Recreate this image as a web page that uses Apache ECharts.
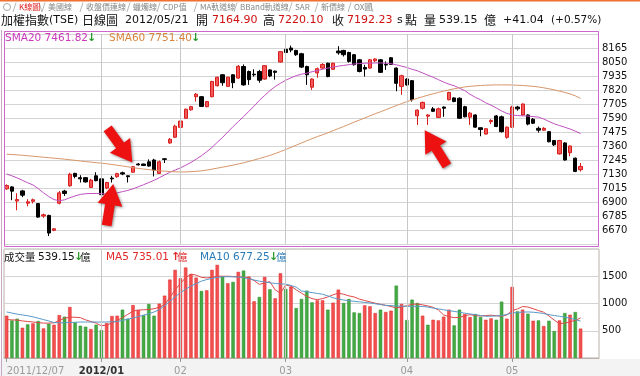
<!DOCTYPE html>
<html>
<head>
<meta charset="utf-8">
<script src="https://cdn.jsdelivr.net/npm/echarts@6/dist/echarts.min.js"></script>
<style>
html, body { margin: 0; padding: 0; background: #fff; }
#chart { width: 640px; height: 376px; }
</style>
</head>
<body>
<div id="chart"></div>
<script>
// 日期 (交易日)
const dates = [
  '2011/12/07','2011/12/08','2011/12/09','2011/12/12','2011/12/13','2011/12/14','2011/12/15','2011/12/16','2011/12/19','2011/12/20',
  '2011/12/21','2011/12/22','2011/12/23','2011/12/26','2011/12/27','2011/12/28','2011/12/29','2011/12/30',
  '2012/01/02','2012/01/03','2012/01/04','2012/01/05','2012/01/06','2012/01/09','2012/01/10','2012/01/11','2012/01/12','2012/01/13',
  '2012/01/16','2012/01/17','2012/01/18','2012/01/30','2012/01/31',
  '2012/02/01','2012/02/02','2012/02/03','2012/02/04','2012/02/06','2012/02/07','2012/02/08','2012/02/09','2012/02/10','2012/02/13',
  '2012/02/14','2012/02/15','2012/02/16','2012/02/17','2012/02/20','2012/02/21','2012/02/22','2012/02/23','2012/02/24','2012/02/29',
  '2012/03/01','2012/03/02','2012/03/03','2012/03/05','2012/03/06','2012/03/07','2012/03/08','2012/03/09','2012/03/12','2012/03/13',
  '2012/03/14','2012/03/15','2012/03/16','2012/03/19','2012/03/20','2012/03/21','2012/03/22','2012/03/23','2012/03/26','2012/03/27',
  '2012/03/28','2012/03/29','2012/03/30',
  '2012/04/02','2012/04/03','2012/04/05','2012/04/06','2012/04/09','2012/04/10','2012/04/11','2012/04/12','2012/04/13','2012/04/16',
  '2012/04/17','2012/04/18','2012/04/19','2012/04/20','2012/04/23','2012/04/24','2012/04/25','2012/04/26','2012/04/27','2012/04/30',
  '2012/05/02','2012/05/03','2012/05/04','2012/05/07','2012/05/08','2012/05/09','2012/05/10','2012/05/11','2012/05/14','2012/05/15',
  '2012/05/16','2012/05/17','2012/05/18','2012/05/21'
];

const opens = [
  7008,7024,6908,6991,6890,6906,6887,6785,6790,6668, 6890,6990,7033,7135,7100,7100,7020,7115,7090,7015,
  7097,7108,7140,7115,7145,7212,7212,7230,7245,7135, 7255,7385,7432,7513,7588,7657,7765,7765,7683,7765,
  7855,7945,7850,7945,7918,8013,7972,7950,7972,7910, 7985,7975,8050,8155,8165,8145,8118,8013,7843,7960,
  8000,8040,7990,8140,8145,8128,8110,8068,8005,8000, 8060,8068,8030,8085,8000,7850,7910,7897,7608,7670,
  7605,7665,7595,7680,7740,7755,7752,7683,7597,7615, 7510,7458,7560,7607,7600,7431,7514,7680,7615,7615,
  7580,7505,7490,7478,7405,7295,7385,7305,7260,7164.90
];
const closes = [
  7035,6989,6920,6956,6902,6918,6776,6795,6645,6680, 6975,6970,7128,7110,7090,7065,7080,7075,6960,7060,
  7090,7133,7130,7108,7190,7205,7200,7195,7162,7230, 7250,7415,7523,7565,7662,7683,7785,7685,7725,7890,
  7925,7880,7925,7880,8015,7862,7905,7945,7900,8020, 7935,7965,8135,8128,8148,8110,8008,7945,7910,7995,
  8030,7930,8040,8125,8110,8055,8028,7972,7992,8068, 8075,7965,8025,8030,7875,7937,7862,7740,7655,7718,
  7615,7645,7665,7670,7800,7725,7588,7600,7630,7515, 7495,7502,7570,7520,7478,7515,7680,7665,7705,7540,
  7547,7490,7505,7395,7370,7405,7245,7360,7151.19,7192.23
];
const lows = [
  7000,6915,6832,6940,6865,6888,6770,6770,6620,6660, 6880,6950,7025,7095,7060,7060,7015,7070,6955,7005,
  7060,7100,7120,7060,7140,7200,7195,7190,7110,7130, 7220,7378,7425,7505,7583,7650,7725,7680,7678,7760,
  7850,7855,7845,7835,7910,7855,7862,7930,7880,7905, 7925,7905,8045,8120,8130,8100,8000,7862,7821,7920,
  7990,7925,7985,8110,8095,8045,8020,7965,7930,7995, 8050,7960,7985,8025,7810,7780,7855,7725,7533,7660,
  7533,7640,7590,7600,7735,7720,7583,7595,7533,7510, 7440,7455,7540,7515,7470,7420,7510,7650,7610,7530,
  7540,7470,7485,7390,7360,7290,7240,7275,7145,7150
];
const highs = [
  7045,7030,6972,7000,6923,6928,6890,6805,6795,6685, 6990,7000,7140,7140,7120,7105,7090,7145,7095,7065,
  7115,7140,7150,7118,7195,7220,7215,7250,7255,7240, 7260,7425,7535,7575,7668,7690,7795,7770,7730,7895,
  7930,7950,7930,7950,8025,8030,7980,7990,7985,8025, 7990,7980,8140,8165,8185,8150,8125,8020,7915,8005,
  8040,8045,8045,8180,8150,8135,8115,8075,8027,8075, 8080,8075,8055,8090,8005,7945,7915,7900,7660,7725,
  7620,7680,7675,7685,7805,7760,7760,7690,7640,7620, 7512,7505,7580,7615,7610,7520,7690,7690,7710,7620,
  7590,7520,7515,7480,7410,7410,7390,7365,7265,7220.10
];

// 均線
const sma20 = [
  7130,7115,7098,7078,7058,7040,7010,6975,6945,6920, 6910,6918,6935,6950,6962,6968,6970,6970,6968,6966,
  6968,6975,6985,6995,7008,7025,7042,7060,7078,7100, 7122,7145,7162,7180,7202,7225,7252,7280,7313,7348,
  7390,7430,7475,7519,7560,7602,7645,7688,7735,7775, 7815,7848,7875,7900,7920,7938,7950,7958,7970,7980,
  7990,8000,8008,8016,8022,8028,8034,8037,8040,8041, 8042,8042,8041,8036,8027,8016,8005,7990,7978,7960,
  7942,7925,7905,7885,7868,7855,7835,7815,7785,7760, 7740,7715,7695,7672,7648,7628,7615,7610,7608,7606,
  7602,7597,7582,7562,7542,7528,7514,7500,7482,7461.82
];
const sma60 = [
  7292,7290,7287,7284,7280,7276,7272,7268,7264,7260, 7256,7252,7247,7242,7237,7232,7228,7223,7219,7214,
  7208,7202,7196,7189,7182,7176,7171,7166,7161,7157, 7153,7150,7148,7147,7147,7149,7152,7156,7162,7170,
  7178,7186,7194,7203,7212,7222,7233,7245,7257,7270, 7283,7298,7314,7331,7349,7367,7385,7403,7420,7437,
  7452,7468,7486,7503,7520,7538,7556,7573,7590,7608, 7625,7641,7658,7675,7692,7708,7724,7738,7752,7765,
  7777,7789,7800,7811,7821,7830,7838,7845,7850,7854, 7857,7859,7861,7862,7862,7862,7861,7859,7857,7854,
  7850,7845,7838,7830,7821,7811,7800,7788,7772,7751.40
];

// 成交量 (億)
const volumes = [
  776,690,721,555,617,635,678,543,629,610, 788,758,936,653,592,574,531,610,512,641,
  770,776,887,721,972,880,788,991,776,997, 1144,1439,1617,1463,1660,1537,1475,1230,1242,1617,
  1709,1500,1371,1396,1580,1604,1494,1040,1120,1488, 1261,1095,1555,1267,1310,917,1083,1236,1021,1058,
  1058,887,1015,1255,1009,1083,837,825,966,948, 825,887,844,868,1328,991,696,1071,1009,776,
  610,702,690,758,887,598,887,807,752,807, 752,702,727,702,1034,721,1304,856,887,813,
  684,690,586,684,494,690,825,794,844,539.15
];
// 1 = 上漲(紅), 0 = 下跌(綠)
const volDir = [
  1,0,0,1,0,1,0,1,0,1, 1,0,1,0,0,0,1,0,0,1, 1,1,0,0,1,1,0,0,0,1, 1,1,1,1,1,1,1,0,1,1,
  1,0,1,0,1,0,1,1,0,1, 0,1,1,0,1,0,0,0,0,1, 1,0,1,1,0,0,0,0,1,1, 1,0,1,1,0,1,0,0,0,1,
  0,1,1,1,1,0,0,1,1,0, 0,1,1,0,0,1,1,0,1,0, 1,0,1,0,0,1,0,1,0,1
];
const volMa5 = [
  705,700,695,680,670,660,650,640,640,645, 690,730,750,748,740,700,670,640,590,605,
  640,690,740,800,860,880,885,890,905,930, 980,1110,1250,1370,1470,1540,1520,1480,1470,1480,
  1500,1500,1500,1495,1490,1480,1470,1420,1350,1380, 1400,1250,1190,1340,1320,1250,1190,1130,1090,1070,
  1090,1120,1160,1190,1170,1140,1120,1080,1055,1030, 1005,985,966,945,920,935,960,985,990,975,
  955,930,880,790,760,740,745,775,795,780, 770,780,785,775,765,790,870,900,945,935,
  905,870,840,770,695,630,640,665,690,735.01
];
const volMa10 = [
  845,825,805,790,775,755,730,705,680,650, 645,648,652,655,660,660,660,660,660,660,
  665,670,690,712,734,760,785,812,845,887, 960,1040,1120,1200,1260,1320,1365,1410,1440,1460,
  1480,1490,1492,1490,1485,1475,1455,1430,1410,1395, 1380,1368,1360,1355,1330,1300,1230,1215,1200,1185,
  1170,1140,1105,1080,1065,1050,1040,1030,1020,1010, 995,980,966,960,955,950,948,948,948,945,
  935,915,900,885,868,855,840,822,808,795, 780,765,768,772,776,800,826,835,842,845,
  840,830,815,795,780,765,750,730,705,677.25
];

// 標示箭頭: [日期, 指向價位]
const arrowMarks = [
  ['2012/01/10', 7225],
  ['2012/01/04', 7050],
  ['2012/04/09', 7491]
];

const SLOTS = 113; // 110 根K棒 + 右側留白
const FONT = '"DejaVu Sans", "Noto Sans CJK TC", sans-serif';
const CJK = '"Noto Sans CJK TC", "DejaVu Sans", sans-serif';

const monthIdx = new Set();
dates.forEach((d, i) => { if (i > 0 && d.slice(5, 7) !== dates[i - 1].slice(5, 7)) monthIdx.add(i); });
const monthDates = dates.filter((d, i) => monthIdx.has(i));
const isLabel = (i) => i === 0 || monthIdx.has(i);

const candles = dates.map((d, i) => [opens[i], closes[i], lows[i], highs[i]]);
const volData = volumes.map((v, i) => ({
  value: v,
  itemStyle: volDir[i]
    ? { color: '#f25050', borderColor: '#e02828', borderWidth: 0.5 }
    : { color: '#44aa44', borderColor: '#2f8f2f', borderWidth: 0.5 }
}));

const monthLines = {
  silent: true,
  symbol: ['none', 'none'],
  label: { show: false },
  lineStyle: { color: '#c8c8c8', width: 1, type: 'solid' },
  emphasis: { disabled: true },
  data: monthDates.map(d => ({ xAxis: d }))
};

const ARROW = 'path://M13,0 L27,21 L18.5,21 L18.5,42 L7.5,42 L7.5,21 L-1,21 Z';
const arrowCfg = [
  { rot: -144, off: [-13, -17] },
  { rot: -9, off: [-2, 21] },
  { rot: 32, off: [8, 18] }
];

function txt(x, y, text, fill, font) {
  return { type: 'text', x: x, y: y, silent: true, z: 100,
    style: { text: text, fill: fill, font: font, textVerticalAlign: 'middle', verticalAlign: 'middle' } };
}
function seg(x1, y1, x2, y2, color) {
  return { type: 'line', silent: true, z: 90, shape: { x1: x1, y1: y1, x2: x2, y2: y2 },
    style: { stroke: color, lineWidth: 1 } };
}

const tabs = ['K線圖', '美國線', '收盤價連線', '蠟燭線', 'CDP值', 'MA軌道線', 'BBand軌道線', 'SAR', '新價線', 'OX圖'];
const tabX = [19, 48, 86, 133, 163, 200, 240, 295, 321, 354];
const H = '11px ';
const HC = '12px ';

const option = {
  animation: false,
  backgroundColor: '#fff',
  graphic: [
    { type: 'rect', shape: { x: 0, y: 0, width: 640, height: 1.5 }, style: { fill: '#f07030' }, silent: true },
    { type: 'rect', shape: { x: 0, y: 359, width: 640, height: 17 }, style: { fill: '#f3f3f3' }, silent: true, z: -1 },
    seg(1.5, 30, 1.5, 376, '#c8a8c4'),
    { type: 'rect', shape: { x: 4.5, y: 31.5, width: 594, height: 215 },
      style: { fill: 'none', stroke: '#cc66cc', lineWidth: 1 }, silent: true, z: 50 },
    { type: 'circle', shape: { cx: 7, cy: 7, r: 3.5 }, style: { fill: '#fff', stroke: '#aaa', lineWidth: 1 }, silent: true },
    ...tabs.map((t, i) => seg(tabX[i] - 6, 12, tabX[i] - 3, 2.5, '#b8b8b8')),
    seg(39, 2.5, 42, 12, '#b8b8b8'),
    seg(370, 2.5, 373, 12, '#b8b8b8'),
    ...tabs.map((t, i) => txt(tabX[i], 7, t, i === 0 ? '#e02020' : '#888', '8px ' + CJK)),
    txt(1, 20, '加權指數', '#111', HC + CJK),
    txt(49, 20, '(TSE)', '#111', H + FONT),
    txt(82, 20, '日線圖', '#111', HC + CJK),
    txt(125, 20, '2012/05/21', '#111', H + FONT),
    txt(196, 20, '開', '#111', HC + CJK),
    txt(212, 20, '7164.90', '#d01010', H + FONT),
    txt(263, 20, '高', '#111', HC + CJK),
    txt(278, 20, '7220.10', '#d01010', H + FONT),
    txt(332, 20, '收', '#111', HC + CJK),
    txt(347, 20, '7192.23', '#d01010', H + FONT),
    txt(397, 20, 's', '#111', H + FONT),
    txt(405, 20, '點', '#111', HC + CJK),
    txt(424, 20, '量', '#111', HC + CJK),
    txt(439, 20, '539.15', '#111', H + FONT),
    txt(484, 20, '億', '#111', HC + CJK),
    txt(503, 20, '+41.04', '#111', H + FONT),
    txt(551, 20, '(+0.57%)', '#111', '10.5px ' + FONT),
    txt(5, 38, 'SMA20 7461.82', '#c838b8', '10.5px ' + FONT),
    txt(87, 38, '↓', '#2a9a2a', 'bold 11px ' + FONT),
    txt(109, 38, 'SMA60 7751.40', '#d8843c', '10.5px ' + FONT),
    txt(191, 38, '↓', '#2a9a2a', 'bold 11px ' + FONT),
    txt(4, 257, '成交量', '#111', '10.5px ' + CJK),
    txt(38, 257, '539.15', '#111', '10.5px ' + FONT),
    txt(74, 257, '↓', '#2a9a2a', 'bold 11px ' + FONT),
    txt(80, 257, '億', '#111', '10.5px ' + CJK),
    txt(106, 257, 'MA5 735.01', '#e02828', '10.5px ' + FONT),
    txt(171, 257, '↑', '#e02828', 'bold 11px ' + FONT),
    txt(177, 257, '億', '#e02828', '10.5px ' + CJK),
    txt(200, 257, 'MA10 677.25', '#2a7ab8', '10.5px ' + FONT),
    txt(269, 257, '↓', '#2a9a2a', 'bold 11px ' + FONT),
    txt(276, 257, '億', '#2a7ab8', '10.5px ' + CJK)
  ],
  grid: [
    { left: 4, top: 34, width: 595, height: 210 },
    { left: 4, top: 249, width: 595, height: 109, show: true, backgroundColor: '#fff', borderColor: '#b8b0a8', borderWidth: 1 }
  ],
  xAxis: [
    { type: 'category', gridIndex: 0, data: dates, boundaryGap: true, max: SLOTS - 1,
      axisLine: { show: false }, axisTick: { show: false }, axisLabel: { show: false }, splitLine: { show: false } },
    { type: 'category', gridIndex: 1, data: dates, boundaryGap: true, max: SLOTS - 1,
      axisLine: { show: true, lineStyle: { color: '#b8b0a8' } },
      axisTick: { show: true, alignWithLabel: true, length: 4, interval: (i) => isLabel(i), lineStyle: { color: '#999' } },
      splitLine: { show: false },
      axisLabel: {
        interval: (i) => isLabel(i),
        margin: 8,
        alignMinLabel: 'left',
        fontSize: 10,
        fontFamily: 'DejaVu Sans',
        formatter: (v, i) => {
          if (!v) return '';
          if (i === 0) return '{g|' + v + '}';
          if (v.slice(5, 7) === '01') return '{b|' + v.slice(0, 7) + '}';
          return '{g|' + v.slice(5, 7) + '}';
        },
        rich: {
          g: { color: '#9a9a9a', fontSize: 10, fontFamily: 'DejaVu Sans' },
          b: { color: '#333', fontSize: 10, fontWeight: 'bold', fontFamily: 'DejaVu Sans' }
        }
      } }
  ],
  yAxis: [
    { type: 'value', gridIndex: 0, position: 'right', min: 6555, max: 8280, interval: 115,
      axisLine: { show: false }, axisTick: { show: false },
      axisLabel: { showMinLabel: false, showMaxLabel: false, margin: 3, color: '#111', fontSize: 10,
        fontFamily: 'DejaVu Sans', formatter: (v) => String(v) },
      splitLine: { show: true, lineStyle: { color: '#d4d4d4', width: 1 } } },
    { type: 'value', gridIndex: 1, position: 'right', min: 0, max: 2000, interval: 500,
      axisLine: { show: false }, axisTick: { show: false },
      axisLabel: { showMinLabel: false, showMaxLabel: false, margin: 3, color: '#111', fontSize: 10,
        fontFamily: 'DejaVu Sans', formatter: (v) => String(v) },
      splitLine: { show: true, lineStyle: { color: '#d4d4d4', width: 1 } } }
  ],
  series: [
    { name: 'K線', type: 'candlestick', xAxisIndex: 0, yAxisIndex: 0, data: candles, barWidth: 3.8,
      itemStyle: { color: '#f25a5a', color0: '#000', borderColor: '#d81c1c', borderColor0: '#000', borderWidth: 1 },
      markLine: monthLines,
      markPoint: {
        silent: true,
        symbol: ARROW,
        symbolSize: [25, 42],
        label: { show: false },
        itemStyle: { color: '#ee1111', shadowBlur: 3, shadowColor: 'rgba(0,0,0,0.45)', shadowOffsetX: 1, shadowOffsetY: 1 },
        data: arrowMarks.map((m, i) => ({ coord: m, symbolRotate: arrowCfg[i].rot, symbolOffset: arrowCfg[i].off }))
      },
      z: 3 },
    { name: 'SMA20', type: 'line', xAxisIndex: 0, yAxisIndex: 0, data: sma20, symbol: 'none',
      lineStyle: { color: '#c050c0', width: 1 }, z: 4 },
    { name: 'SMA60', type: 'line', xAxisIndex: 0, yAxisIndex: 0, data: sma60, symbol: 'none',
      lineStyle: { color: '#d8966a', width: 1 }, z: 4 },
    { name: '成交量', type: 'bar', xAxisIndex: 1, yAxisIndex: 1, data: volData, barWidth: 3.4,
      markLine: monthLines, z: 2 },
    { name: 'MA5', type: 'line', xAxisIndex: 1, yAxisIndex: 1, data: volMa5, symbol: 'none',
      lineStyle: { color: '#e04848', width: 1 }, z: 4 },
    { name: 'MA10', type: 'line', xAxisIndex: 1, yAxisIndex: 1, data: volMa10, symbol: 'none',
      lineStyle: { color: '#5a9ac8', width: 1 }, z: 4 }
  ]
};

const chart = echarts.init(document.getElementById('chart'));
chart.setOption(option);
</script>
</body>
</html>
